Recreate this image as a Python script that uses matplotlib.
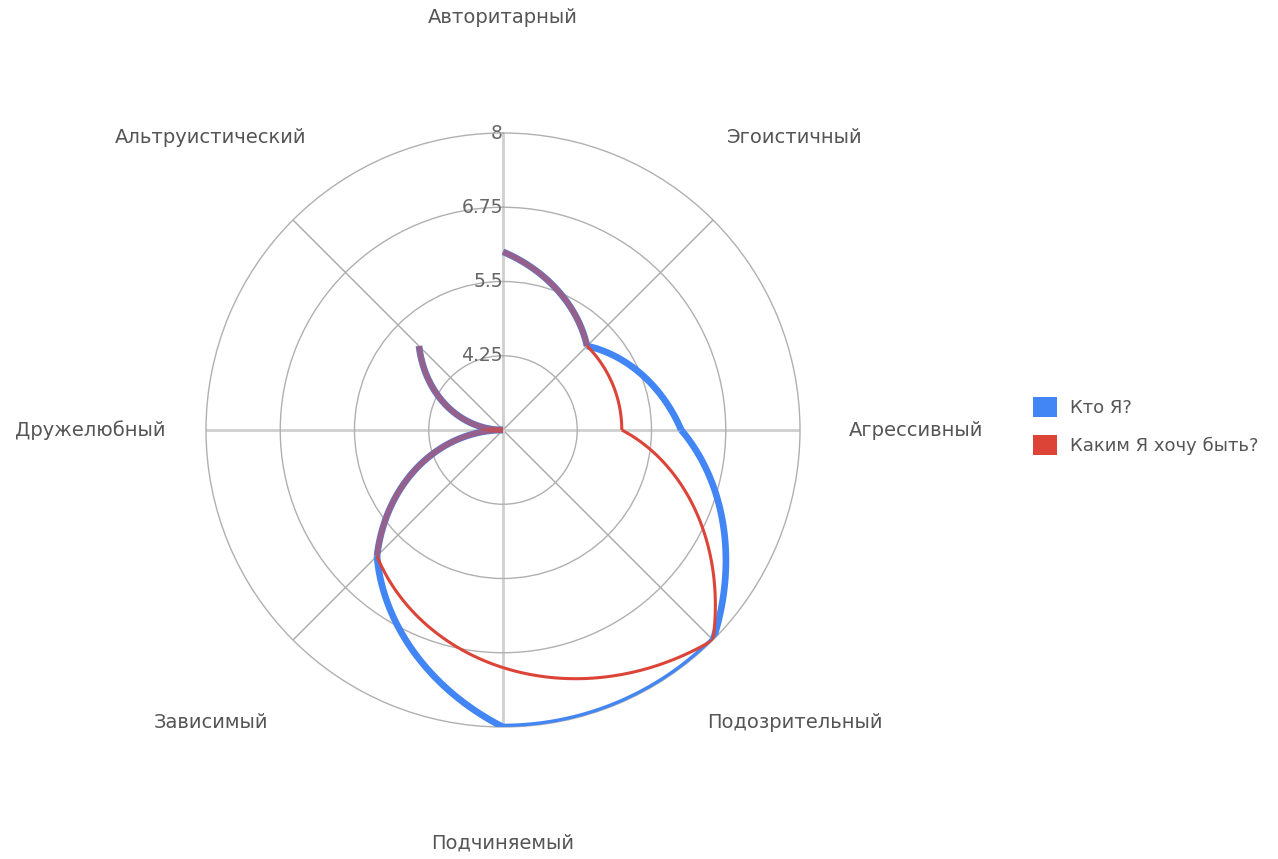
import numpy as np
import matplotlib
matplotlib.use("Agg")
import matplotlib.pyplot as plt
from matplotlib.patches import Patch

categories = ["Авторитарный", "Эгоистичный", "Агрессивный", "Подозрительный",
              "Подчиняемый", "Зависимый", "Дружелюбный", "Альтруистический"]
series_names = ["Кто Я?", "Каким Я хочу быть?"]
who_am_i = [6, 5, 6, 8, 8, 6, 3, 5]
want_to_be = [6, 5, 5, 8, 7, 6, 3, 5]
r_ticks = [4.25, 5.5, 6.75, 8]
r_tick_labels = ["4.25", "5.5", "6.75", "8"]
r_min, r_max = 3, 8

BLUE = "#4285F4"
RED = "#DB4437"
TEXT = "#555555"

plt.rcParams['font.family'] = ['DejaVu Sans']

fig = plt.figure(figsize=(12.78, 8.59), dpi=100)
ax = fig.add_axes([206 / 1278, 132 / 859, 594 / 1278, 594 / 859], projection='polar')
ax.set_theta_zero_location('N')
ax.set_theta_direction(-1)
ax.set_ylim(r_min, r_max)

n = len(categories)
thetas = np.arange(n) * 2 * np.pi / n

# grid
ax.set_xticks([])
ax.set_yticks(r_ticks[:-1])
ax.set_yticklabels([])
ax.yaxis.grid(True, color="#b0b0b0", linewidth=1.0)
ax.xaxis.grid(False)
ax.spines['polar'].set_color("#b0b0b0")
ax.spines['polar'].set_linewidth(1.0)
for i, t in enumerate(thetas):
    if i % 2 == 0:
        ax.plot([t, t], [r_min, r_max], color="#cfcfcf", linewidth=2.0, zorder=1)
    else:
        ax.plot([t, t], [r_min, r_max], color="#a8a8a8", linewidth=1.0, zorder=1)

for r, lab in zip(r_ticks, r_tick_labels):
    ax.text(0, r, lab, ha='right', va='center', color="#666666", fontsize=13.5,
            zorder=2)


def seg_path(t0, t1, r0, r1, steps=60):
    tt = np.linspace(t0, t1, steps)
    rr = np.linspace(r0, r1, steps)
    return tt, rr


# Blue series
for i in range(n - 1):
    tt, rr = seg_path(thetas[i], thetas[i + 1], who_am_i[i], who_am_i[i + 1])
    ax.plot(tt, rr, color=BLUE, linewidth=4.8, solid_capstyle='butt',
            solid_joinstyle='round', zorder=3)

# Red series (blended where coincident with blue)
for i in range(n - 1):
    tt, rr = seg_path(thetas[i], thetas[i + 1], want_to_be[i], want_to_be[i + 1])
    same = (who_am_i[i] == want_to_be[i]) and (who_am_i[i + 1] == want_to_be[i + 1])
    if same:
        ax.plot(tt, rr, color=RED, alpha=0.55, linewidth=4.2, solid_capstyle='butt',
                solid_joinstyle='round', zorder=4)
    else:
        ax.plot(tt, rr, color=RED, linewidth=2.2, solid_capstyle='butt',
                solid_joinstyle='round', zorder=4)

# category labels
label_r = r_min + (r_max - r_min) * 413 / 297
for t, c in zip(thetas, categories):
    ax.text(t, label_r, c, ha='center', va='center', color=TEXT, fontsize=14,
            clip_on=False)

handles = [Patch(facecolor=BLUE, edgecolor='none'), Patch(facecolor=RED, edgecolor='none')]
fig.legend(handles, series_names, loc='upper left',
           bbox_to_anchor=(1033 / 1278, 1 - 397 / 859), frameon=False,
           fontsize=13, handlelength=1.35, handleheight=1.35, handletextpad=0.7,
           labelspacing=0.97, borderpad=0, borderaxespad=0, labelcolor=TEXT)

fig.savefig("out.png", dpi=100, facecolor='white')
